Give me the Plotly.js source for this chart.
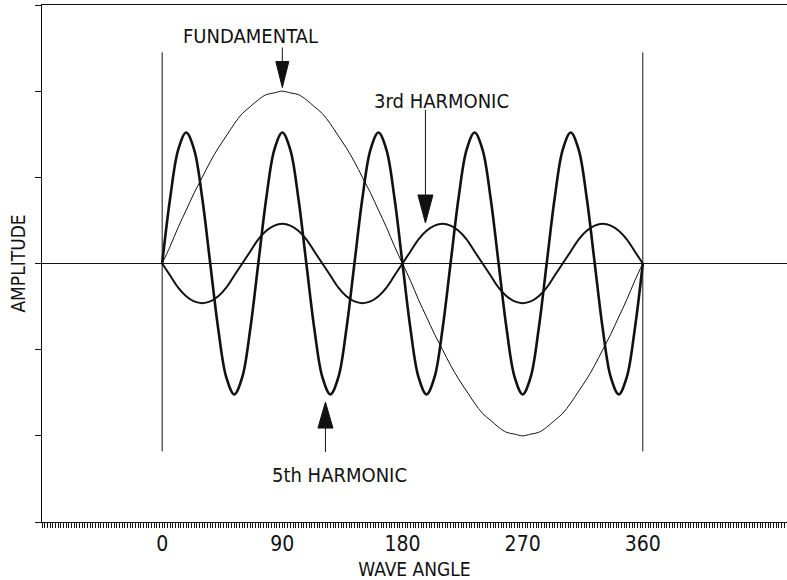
<!DOCTYPE html>
<html>
<head>
<meta charset="utf-8">
<script src="https://cdn.plot.ly/plotly-3.0.1.min.js"></script>
<style>html,body{margin:0;padding:0;background:#fff;}#chart{width:787px;height:580px;}</style>
</head>
<body>
<div id="chart"></div>
<script>
// Wave angle (degrees) sampled every 6 degrees
var waveAngle = [0,6,12,18,24,30,36,42,48,54,60,66,72,78,84,90,96,102,108,114,120,126,132,138,144,150,156,162,168,174,180,186,192,198,204,210,216,222,228,234,240,246,252,258,264,270,276,282,288,294,300,306,312,318,324,330,336,342,348,354,360];

// Amplitudes
var fundamental = [0,0.10,0.21,0.31,0.41,0.50,0.59,0.67,0.74,0.81,0.87,0.91,0.95,0.98,0.99,1.00,0.99,0.98,0.95,0.91,0.87,0.81,0.74,0.67,0.59,0.50,0.41,0.31,0.21,0.10,0,-0.10,-0.21,-0.31,-0.41,-0.50,-0.59,-0.67,-0.74,-0.81,-0.87,-0.91,-0.95,-0.98,-0.99,-1.00,-0.99,-0.98,-0.95,-0.91,-0.87,-0.81,-0.74,-0.67,-0.59,-0.50,-0.41,-0.31,-0.21,-0.10,0];

var harmonic3 = [0,-0.07,-0.14,-0.19,-0.22,-0.23,-0.22,-0.19,-0.14,-0.07,0,0.07,0.14,0.19,0.22,0.23,0.22,0.19,0.14,0.07,0,-0.07,-0.14,-0.19,-0.22,-0.23,-0.22,-0.19,-0.14,-0.07,0,0.07,0.14,0.19,0.22,0.23,0.22,0.19,0.14,0.07,0,-0.07,-0.14,-0.19,-0.22,-0.23,-0.22,-0.19,-0.14,-0.07,0,0.07,0.14,0.19,0.22,0.23,0.22,0.19,0.14,0.07,0];

var harmonic5 = [0,0.38,0.66,0.76,0.66,0.38,0,-0.38,-0.66,-0.76,-0.66,-0.38,0,0.38,0.66,0.76,0.66,0.38,0,-0.38,-0.66,-0.76,-0.66,-0.38,0,0.38,0.66,0.76,0.66,0.38,0,-0.38,-0.66,-0.76,-0.66,-0.38,0,0.38,0.66,0.76,0.66,0.38,0,-0.38,-0.66,-0.76,-0.66,-0.38,0,0.38,0.66,0.76,0.66,0.38,0,-0.38,-0.66,-0.76,-0.66,-0.38,0];

// Tick values / labels
var xTickVals = [0,90,180,270,360];
var xTickLabels = ['0','90','180','270','360'];
var yTickVals = [-1.5,-1,-0.5,0,0.5,1,1.5];

var ink = '#111111';
var FONT = '"DejaVu Sans Condensed", "Liberation Sans Narrow", "DejaVu Sans", sans-serif';

var traces = [
  {x: waveAngle, y: fundamental, name: 'FUNDAMENTAL', mode: 'lines',
   line: {color: ink, width: 1, shape: 'spline'}},
  {x: waveAngle, y: harmonic3, name: '3rd HARMONIC', mode: 'lines',
   line: {color: ink, width: 2, shape: 'spline'}},
  {x: waveAngle, y: harmonic5, name: '5th HARMONIC', mode: 'lines',
   line: {color: ink, width: 2.6, shape: 'spline'}}
];

function arrowShapes(ax, ay, headLen, halfW, shaftLen, dir) {
  // dir = 1: arrow points down (head above tip); -1: points up
  var s = dir;
  return [
    {type: 'path', xref: 'x', yref: 'y', xsizemode: 'pixel', ysizemode: 'pixel',
     xanchor: ax, yanchor: ay,
     path: 'M' + (-halfW) + ',' + (s*headLen) + ' L' + halfW + ',' + (s*headLen) + ' L0,0 Z',
     fillcolor: ink, line: {color: ink, width: 1}},
    {type: 'line', xref: 'x', yref: 'y', xsizemode: 'pixel', ysizemode: 'pixel',
     xanchor: ax, yanchor: ay, x0: 0, x1: 0, y0: s*headLen, y1: s*shaftLen,
     line: {color: ink, width: 1}}
  ];
}

var shapes = [
  {type: 'line', xref: 'x', yref: 'y', x0: xTickVals[0], x1: xTickVals[0], y0: -1.09, y1: 1.225,
   line: {color: ink, width: 1}},
  {type: 'line', xref: 'x', yref: 'y', x0: xTickVals[4], x1: xTickVals[4], y0: -1.09, y1: 1.225,
   line: {color: ink, width: 1}}
].concat(arrowShapes(90, 1.021, 26, 6.5, 40, 1))
 .concat(arrowShapes(197.2, 0.235, 28, 7.5, 113, 1))
 .concat(arrowShapes(122.3, -0.804, 26, 7.5, 50, -1));

var layout = {
  width: 787, height: 580,
  margin: {l: 42, r: 0, t: 5, b: 58, pad: 0},
  paper_bgcolor: '#ffffff', plot_bgcolor: '#ffffff',
  showlegend: false,
  font: {family: FONT, color: ink, size: 20},
  xaxis: {
    range: [-90, 468], fixedrange: true,
    showgrid: false, zeroline: false,
    showline: true, linecolor: ink, linewidth: 1, mirror: true,
    tickmode: 'array', tickvals: xTickVals, ticktext: xTickLabels,
    ticks: 'outside', ticklen: 5, tickcolor: ink, tickwidth: 1,
    minor: {dtick: 2, tick0: 0, ticks: 'outside', ticklen: 5, tickcolor: ink, tickwidth: 1, showgrid: false},
    tickfont: {family: FONT, size: 21, color: ink},
    ticklabelstandoff: -2,
    title: {text: 'WAVE ANGLE', font: {family: FONT, size: 19, color: ink}, standoff: 8},
    automargin: false
  },
  yaxis: {
    range: [-1.5, 1.5], fixedrange: true,
    showgrid: false,
    zeroline: true, zerolinecolor: ink, zerolinewidth: 1,
    showline: true, linecolor: ink, linewidth: 1,
    tickmode: 'array', tickvals: yTickVals, showticklabels: false,
    ticks: 'outside', ticklen: 6, tickcolor: ink, tickwidth: 1,
    title: {text: 'AMPLITUDE', font: {family: FONT, size: 19, color: ink}, standoff: 4},
    automargin: false
  },
  shapes: shapes,
  annotations: [
    {text: 'FUNDAMENTAL', x: 65.8, y: 1.318, xref: 'x', yref: 'y', showarrow: false,
     font: {family: FONT, size: 20, color: ink}},
    {text: '3rd HARMONIC', x: 209.2, y: 0.943, xref: 'x', yref: 'y', showarrow: false,
     font: {family: FONT, size: 20, color: ink}},
    {text: '5th HARMONIC', x: 132.8, y: -1.230, xref: 'x', yref: 'y', showarrow: false,
     font: {family: FONT, size: 20, color: ink}}
  ]
};

Plotly.newPlot('chart', traces, layout, {displayModeBar: false, staticPlot: true});
</script>
</body>
</html>
